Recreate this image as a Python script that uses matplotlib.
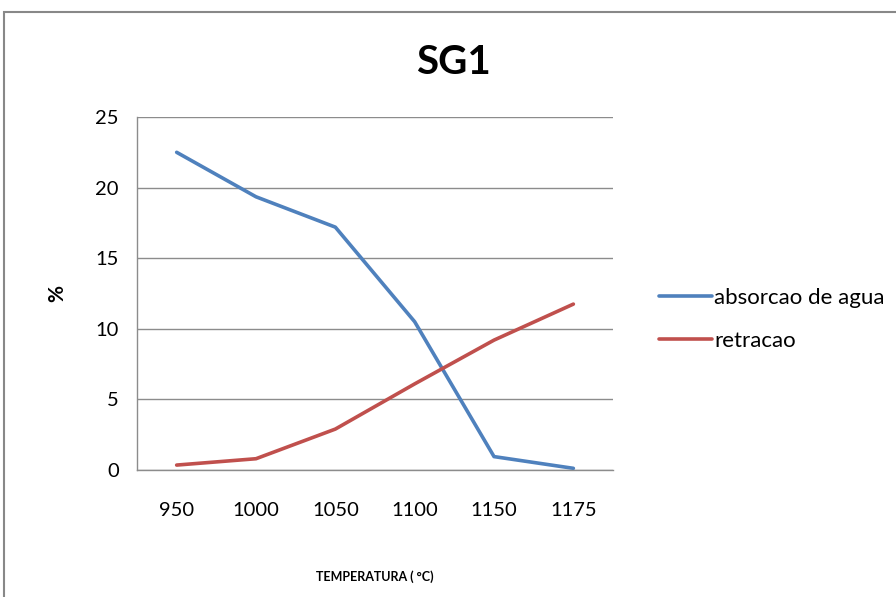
import matplotlib
matplotlib.use("Agg")
from matplotlib import pyplot as plt
from matplotlib.patches import Rectangle
import numpy as np

temps = ["950", "1000", "1050", "1100", "1150", "1175"]
absorcao = [22.5, 19.35, 17.2, 10.5, 0.95, 0.12]
retracao = [0.35, 0.8, 2.9, 6.1, 9.2, 11.75]
yticks = [0, 5, 10, 15, 20, 25]

plt.rcParams['font.family'] = ['Lato', 'DejaVu Sans']

fig = plt.figure(figsize=(8.96, 5.97), dpi=100)
ax = fig.add_axes([0.1529, 0.2127, 0.5313, 0.5913])

x = np.arange(len(temps))
ax.plot(x, absorcao, color='#4F81BD', lw=2.6, label='absorcao de agua', solid_capstyle='round')
ax.plot(x, retracao, color='#C0504D', lw=2.6, label='retracao', solid_capstyle='round')

ax.set_xlim(-0.5, len(temps) - 0.5)
ax.set_ylim(0, 25)
ax.set_yticks(yticks)
ax.set_xticks(x)
ax.set_xticklabels(temps)
ax.tick_params(axis='both', length=0, labelsize=14.5)
ax.tick_params(axis='y', pad=13)
ax.tick_params(axis='x', pad=23)
ax.grid(axis='y', color='#8c8c8c', lw=1)
ax.set_axisbelow(True)
for s in ['top', 'right']:
    ax.spines[s].set_visible(False)
for s in ['left', 'bottom']:
    ax.spines[s].set_color('#8c8c8c')
    ax.spines[s].set_linewidth(1)

fig.text(0.5056, 0.896, 'SG1', ha='center', va='center', fontsize=29, fontweight='bold')
fig.text(0.0636, 0.509, '%', ha='center', va='center', rotation=90, fontsize=15, fontweight='bold')
fig.text(0.4185, 0.0335, 'TEMPERATURA ( °C)', ha='center', va='center', fontsize=9, fontweight='bold')

fig.legend(loc='center left', bbox_to_anchor=(0.713, 0.465), frameon=False,
           fontsize=16, handlelength=2.4, handletextpad=0.1, labelspacing=1.05)

# outer chart border, cut off at right and bottom like the original
fig.patches.append(Rectangle((0.0045, -0.02), 1.05, 0.02 + 1 - 12/597,
                             transform=fig.transFigure, fill=False,
                             edgecolor='#888888', lw=1.5))

fig.savefig('out.png', dpi=100)
